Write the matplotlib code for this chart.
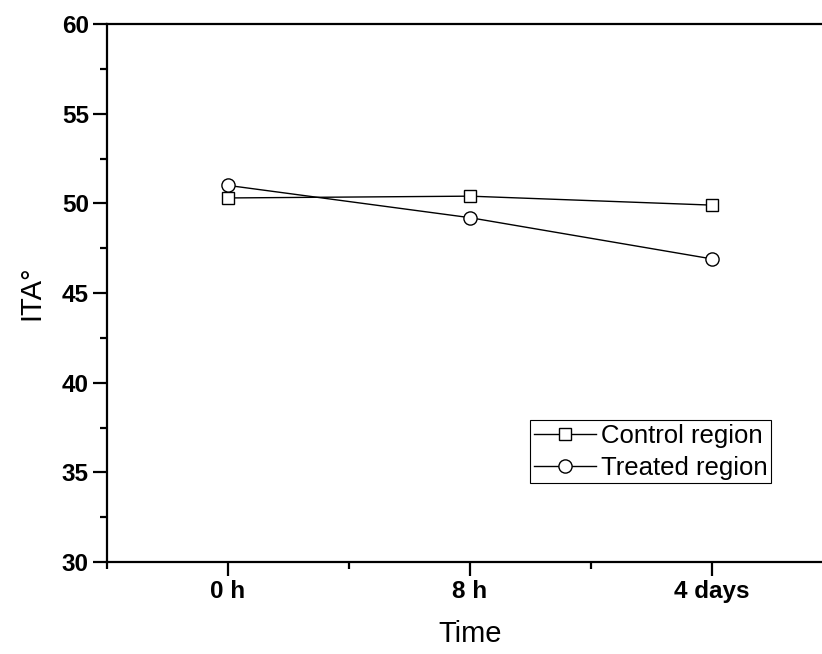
import numpy as np
import matplotlib
matplotlib.use("Agg")
import matplotlib.pyplot as plt
from matplotlib.ticker import MultipleLocator

plt.rcParams['font.family'] = ['Liberation Sans', 'DejaVu Sans']

# data
times = ["0 h", "8 h", "4 days"]
control = [50.3, 50.4, 49.9]
treated = [51.0, 49.2, 46.9]

fig = plt.figure(figsize=(8.22, 6.54), dpi=100)
# axes runs slightly past the right edge, as in the original
ax = fig.add_axes([107/822, 1 - 562/654, 726/822, 538/654])

x = np.arange(1, len(times) + 1)
ax.plot(x, control, color='black', lw=1, marker='s', ms=8,
        mfc='white', mec='black', mew=1, label='Control region')
ax.plot(x, treated, color='black', lw=1, marker='o', ms=9.5,
        mfc='white', mec='black', mew=1, label='Treated region')

ax.set_xlim(0.5, 3.5)
ax.set_ylim(30, 60)
ax.set_xticks(x)
ax.set_xticklabels(times)
ax.xaxis.set_minor_locator(plt.FixedLocator([0.5, 1.5, 2.5, 3.5]))
ax.yaxis.set_major_locator(MultipleLocator(5))
ax.yaxis.set_minor_locator(MultipleLocator(2.5))

for s in ['left', 'bottom', 'top']:
    ax.spines[s].set_linewidth(1.6)
ax.spines['right'].set_visible(False)

ax.tick_params(which='major', direction='out', length=10, width=1.6,
               labelsize=17.5, top=False, right=False, pad=3)
ax.tick_params(which='minor', direction='out', length=5, width=1.6,
               top=False, right=False)
for lab in ax.get_xticklabels() + ax.get_yticklabels():
    lab.set_fontweight('bold')

ax.set_xlabel("Time", fontsize=21, labelpad=12)
ax.set_ylabel("ITA°", fontsize=21, labelpad=12)

leg = ax.legend(loc='upper left', bbox_to_anchor=(0.583, 0.264),
                borderaxespad=0, fontsize=18.5, fancybox=False,
                edgecolor='black', framealpha=1, handlelength=2.4,
                handletextpad=0.2, borderpad=0.15, labelspacing=0.3)
leg.get_frame().set_linewidth(0.8)

fig.savefig("out.png", dpi=100)
